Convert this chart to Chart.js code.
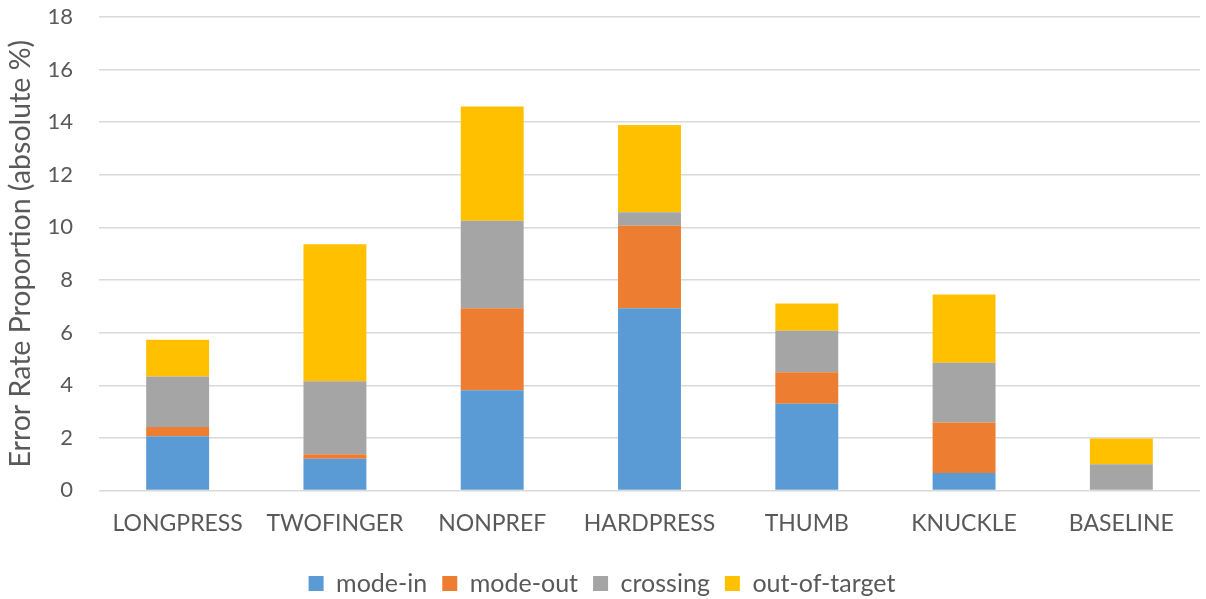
<!DOCTYPE html>
<html>
<head>
<meta charset="utf-8">
<script src="https://cdn.jsdelivr.net/npm/chart.js@4/dist/chart.umd.min.js"></script>
<style>
  html, body { margin: 0; padding: 0; background: #ffffff; }
  #wrap { width: 1206px; height: 599px; position: relative; }
</style>
</head>
<body>
<div id="wrap"><canvas id="chart"></canvas></div>
<script>
// Error categories per interaction technique (absolute %)
const categories = ['LONGPRESS', 'TWOFINGER', 'NONPREF', 'HARDPRESS', 'THUMB', 'KNUCKLE', 'BASELINE'];
const modeIn      = [2.06, 1.20, 3.81, 6.93, 3.29, 0.66, 0.00];
const modeOut     = [0.35, 0.17, 3.12, 3.13, 1.20, 1.92, 0.00];
const crossing    = [1.92, 2.78, 3.32, 0.52, 1.58, 2.27, 0.99];
const outOfTarget = [1.40, 5.21, 4.35, 3.31, 1.04, 2.60, 0.98];

const seriesNames = ['mode-in', 'mode-out', 'crossing', 'out-of-target'];
const seriesColors = ['#5B9BD5', '#ED7D31', '#A5A5A5', '#FFC000'];
const seriesValues = [modeIn, modeOut, crossing, outOfTarget];

const yMin = 0, yMax = 18, yStep = 2;

const textColor = '#595959';
const fontFamily = 'Lato, "Open Sans", sans-serif';

const datasets = seriesNames.map((name, i) => ({
  label: name,
  data: seriesValues[i],
  backgroundColor: seriesColors[i],
  borderWidth: 0,
  categoryPercentage: 1.0,
  barPercentage: 0.4
}));

new Chart(document.getElementById('chart'), {
  type: 'bar',
  data: { labels: categories, datasets },
  options: {
    responsive: true,
    maintainAspectRatio: false,
    animation: false,
    layout: { padding: { top: 17, right: 6, left: 4, bottom: -7 } },
    plugins: {
      tooltip: { enabled: false },
      legend: {
        position: 'bottom',
        labels: {
          color: textColor,
          font: { family: fontFamily, size: 25 },
          boxWidth: 15,
          boxHeight: 15,
          padding: 15
        }
      }
    },
    scales: {
      x: {
        stacked: true,
        grid: { display: false, drawTicks: false },
        border: { display: false },
        ticks: {
          color: textColor,
          font: { family: fontFamily, size: 23 },
          padding: 19,
          maxRotation: 0
        }
      },
      y: {
        stacked: true,
        min: yMin,
        max: yMax,
        afterFit: (s) => {
          s.width = 95;
          s.paddingTop = 0;
          s.paddingBottom = 0;
        },
        grid: { color: '#d9d9d9', lineWidth: 1.4, drawTicks: false },
        border: { display: false },
        ticks: {
          stepSize: yStep,
          color: textColor,
          font: { family: fontFamily, size: 22 },
          padding: 26
        },
        title: {
          display: true,
          text: 'Error Rate Proportion (absolute %)',
          color: textColor,
          font: { family: fontFamily, size: 28.5 },
          padding: { top: 0, bottom: 0 }
        }
      }
    }
  }
});
</script>
</body>
</html>
